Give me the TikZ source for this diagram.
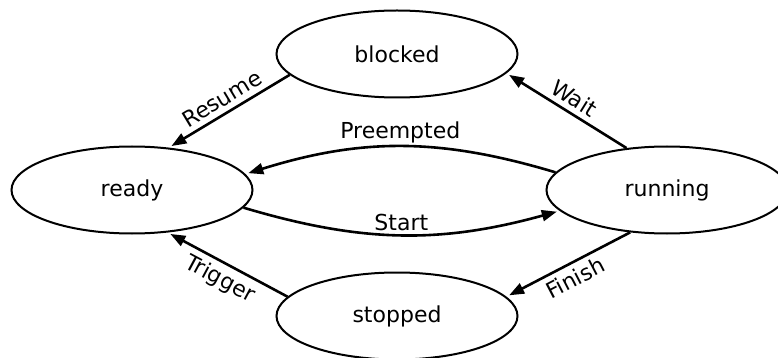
\documentclass[tikz,border=0pt]{standalone}
\usepackage{fontspec}
\setmainfont{DejaVu Sans}
\usetikzlibrary{shapes.geometric,arrows.meta}

\tikzset{
  state/.style={ellipse, draw=black, line width=2pt, minimum width=241pt,
    minimum height=87pt, inner sep=0pt, font=\fontsize{22}{26}\selectfont},
  trans/.style={line width=2.6pt, -{Triangle[length=15pt,width=11pt]}, shorten >=3pt},
  lbl/.style={font=\fontsize{22}{26}\selectfont, inner sep=2.5pt},
  slbl/.style={lbl, sloped, midway, inner sep=5pt}
}

\begin{document}
\begin{tikzpicture}[x=1pt,y=-1pt]
  \useasboundingbox (0,0) rectangle (778,358);

  % states
  \node[state] (blocked) at (397,54)  {blocked};
  \node[state] (ready)   at (132,190) {ready};
  \node[state] (running) at (667,190) {running};
  \node[state] (stopped) at (397,316) {stopped};

  % transitions
  \draw[trans] (blocked.191) -- node[slbl, above] {Resume} (ready.49);
  \draw[trans] (running.134) -- node[slbl, above] {Wait} (blocked.350);
  \draw[trans] (running.171) to[bend right=17] node[lbl, above, midway] {Preempted} (ready.8);
  \draw[trans] (ready.-9) to[bend right=16] node[lbl, above, midway] {Start} (running.191);
  \draw[trans] (running.229) -- node[slbl, below] {Finish} (stopped.10);
  \draw[trans] (stopped.170) -- node[slbl, below] {Trigger} (ready.310);
\end{tikzpicture}
\end{document}
